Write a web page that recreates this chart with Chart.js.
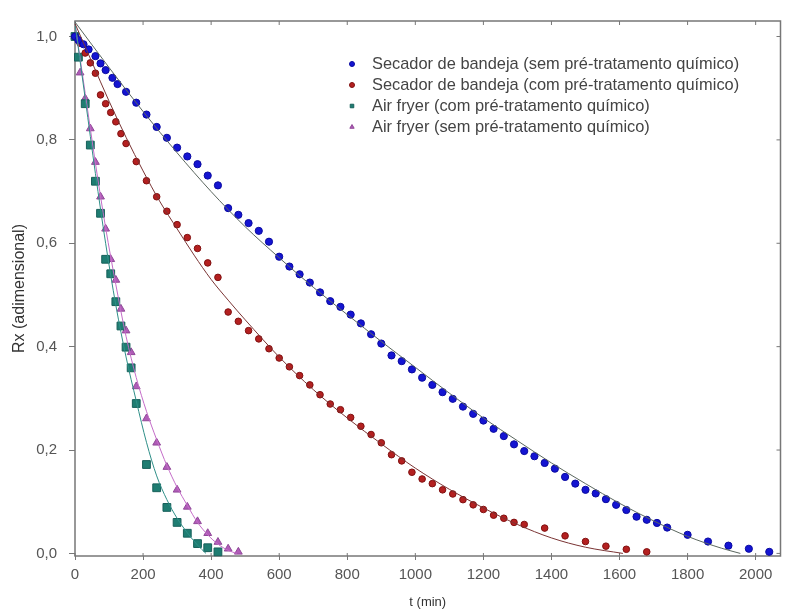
<!DOCTYPE html>
<html lang="pt">
<head>
<meta charset="UTF-8">
<title>Rx x t</title>
<script src="https://cdn.jsdelivr.net/npm/chart.js@4.4.0/dist/chart.umd.min.js"></script>
<style>
    html, body { margin: 0; padding: 0; background: #fff; }
    #wrap { width: 787px; height: 612px; }
</style>
</head>
<body>
<div id="wrap"><canvas id="chart" width="787" height="612"></canvas></div>
<script>
// series names (legend)
var seriesNames = [
    "Secador de bandeja (sem pré-tratamento químico)",
    "Secador de bandeja (com pré-tratamento químico)",
    "Air fryer (com pré-tratamento químico)",
    "Air fryer (sem pré-tratamento químico)"
];

// axis ticks
var xTicks = [0, 200, 400, 600, 800, 1000, 1200, 1400, 1600, 1800, 2000];
var yTicks = [0, 0.2, 0.4, 0.6, 0.8, 1.0];

// secador sem pre-tratamento (blue)
var blueT = [0, 10, 25, 40, 60, 75, 90, 110, 125, 150,
    180, 210, 240, 270, 300, 330, 360, 390, 420, 450, 480, 510, 540, 570, 600, 630, 660, 690, 720, 750,
    780, 810, 840, 870, 900, 930, 960, 990, 1020, 1050, 1080, 1110, 1140, 1170, 1200, 1230, 1260, 1290,
    1320, 1350, 1380, 1410, 1440, 1470, 1500, 1530, 1560, 1590, 1620, 1650, 1680, 1710, 1740,
    1800, 1860, 1920, 1980, 2040];
var blueRx = [1.0, 0.993, 0.985, 0.975, 0.962, 0.948, 0.935, 0.92, 0.908, 0.893,
    0.872, 0.849, 0.825, 0.804, 0.785, 0.768, 0.753, 0.731, 0.712, 0.668, 0.655, 0.639, 0.624, 0.603, 0.574, 0.555, 0.540, 0.524, 0.505, 0.488,
    0.477, 0.462, 0.445, 0.424, 0.406, 0.383, 0.372, 0.356, 0.340, 0.326, 0.312, 0.299, 0.284, 0.270, 0.257, 0.241, 0.227, 0.211,
    0.198, 0.188, 0.175, 0.164, 0.148, 0.135, 0.123, 0.116, 0.105, 0.094, 0.084, 0.071, 0.065, 0.059, 0.050,
    0.036, 0.023, 0.015, 0.009, 0.003];

// secador com pre-tratamento (red)
var redT = [0, 15, 30, 45, 60, 75, 90, 105, 120, 135, 150,
    180, 210, 240, 270, 300, 330, 360, 390, 420, 450, 480, 510, 540, 570, 600, 630, 660, 690, 720, 750,
    780, 810, 840, 870, 900, 930, 960, 990, 1020, 1050, 1080, 1110, 1140, 1170, 1200, 1230, 1260, 1290,
    1320, 1380, 1440, 1500, 1560, 1620, 1680];
var redRx = [1.0, 0.987, 0.968, 0.949, 0.929, 0.887, 0.870, 0.853, 0.835, 0.812, 0.793,
    0.758, 0.721, 0.690, 0.662, 0.636, 0.611, 0.590, 0.562, 0.534, 0.467, 0.449, 0.431, 0.415, 0.396, 0.378, 0.361, 0.344, 0.326, 0.307, 0.289,
    0.278, 0.263, 0.246, 0.230, 0.214, 0.191, 0.179, 0.157, 0.144, 0.135, 0.123, 0.115, 0.104, 0.094, 0.085, 0.074, 0.068, 0.060,
    0.056, 0.049, 0.034, 0.023, 0.014, 0.008, 0.003];

// air fryer com pre-tratamento (teal)
var tealT = [0, 10, 30, 45, 60, 75, 90, 105, 120, 135, 150, 165, 180, 210, 240, 270, 300, 330, 360, 390, 420];
var tealRx = [1.0, 0.96, 0.87, 0.79, 0.72, 0.658, 0.569, 0.541, 0.487, 0.44, 0.399, 0.359, 0.29, 0.172, 0.127, 0.089, 0.060, 0.039, 0.019, 0.011, 0.003];

// air fryer sem pre-tratamento (magenta)
var pinkT = [0, 15, 30, 45, 60, 75, 90, 105, 120, 135, 150, 165, 180, 210, 240, 270, 300, 330, 360, 390, 420, 450, 480];
var pinkRx = [1.0, 0.93, 0.88, 0.822, 0.757, 0.690, 0.628, 0.569, 0.529, 0.473, 0.431, 0.389, 0.323, 0.261, 0.214, 0.167, 0.123, 0.090, 0.062, 0.039, 0.022, 0.009, 0.003];

// fitted curves
var fitBlueT = [0, 100, 200, 300, 400, 500, 600, 700, 800, 900, 1000, 1100, 1200, 1300, 1400, 1500, 1600, 1700, 1800, 1900, 1955];
var fitBlueRx = [1.028, 0.94, 0.855, 0.775, 0.70, 0.632, 0.572, 0.515, 0.462, 0.41, 0.36, 0.31, 0.262, 0.218, 0.175, 0.135, 0.097, 0.063, 0.033, 0.01, 0];
var fitRedT = [0, 50, 100, 150, 200, 250, 300, 350, 400, 450, 500, 600, 700, 800, 900, 1000, 1100, 1200, 1300, 1400, 1500, 1610];
var fitRedRx = [1.025, 0.95, 0.875, 0.805, 0.74, 0.68, 0.628, 0.577, 0.53, 0.49, 0.452, 0.38, 0.317, 0.262, 0.212, 0.165, 0.124, 0.088, 0.056, 0.03, 0.012, 0];
var fitTealT = [0, 30, 60, 90, 120, 150, 180, 210, 240, 270, 300, 330, 360, 385];
var fitTealRx = [1.025, 0.88, 0.735, 0.60, 0.48, 0.38, 0.295, 0.215, 0.15, 0.104, 0.068, 0.04, 0.016, 0];
var fitPinkT = [0, 30, 60, 90, 120, 150, 180, 210, 240, 270, 300, 330, 360, 390, 420, 450, 475];
var fitPinkRx = [1.025, 0.89, 0.755, 0.63, 0.52, 0.42, 0.34, 0.275, 0.22, 0.17, 0.128, 0.093, 0.06, 0.036, 0.018, 0.006, 0];

function pts(t, v) {
    return t.map(function (x, i) { return { x: x, y: v[i] }; });
}

function pointSet(label, t, v, color, edge, style, r) {
    return {
        label: label,
        data: pts(t, v),
        backgroundColor: color,
        borderColor: edge,
        borderWidth: 1,
        pointStyle: style,
        pointRadius: r,
        showLine: false,
        clip: false,
        order: 2
    };
}

function fitSet(t, v, color) {
    return {
        label: "",
        data: pts(t, v),
        borderColor: color,
        borderWidth: 1,
        pointRadius: 0,
        showLine: true,
        cubicInterpolationMode: "monotone",
        order: 1
    };
}

var fontFamily = '"Liberation Sans", Arial, sans-serif';
var tickFont = { family: fontFamily, size: 15 };

// frame around plot area with inner ticks on all sides
var framePlugin = {
    id: "frame",
    beforeDatasetsDraw: function (chart) {
        var a = chart.chartArea, ctx = chart.ctx;
        var xs = chart.scales.x, ys = chart.scales.y;
        ctx.save();
        ctx.strokeStyle = "#777";
        ctx.lineWidth = 1.5;
        ctx.strokeRect(a.left, a.top, a.right - a.left, a.bottom - a.top);
        ctx.lineWidth = 1;
        ctx.beginPath();
        xTicks.forEach(function (v) {
            var px = xs.getPixelForValue(v);
            ctx.moveTo(px, a.top); ctx.lineTo(px, a.top + 4);
            ctx.moveTo(px, a.bottom); ctx.lineTo(px, a.bottom - 3);
        });
        yTicks.forEach(function (v) {
            var py = ys.getPixelForValue(v);
            ctx.moveTo(a.right, py); ctx.lineTo(a.right - 4, py);
        });
        ctx.stroke();
        ctx.restore();
    }
};

// legend inside the plot
var legendPlugin = {
    id: "innerLegend",
    afterDraw: function (chart) {
        var ctx = chart.ctx;
        ctx.save();
        ctx.font = "16.4px " + fontFamily;
        ctx.textBaseline = "middle";
        for (var i = 0; i < seriesNames.length; i++) {
            var ds = chart.data.datasets[i];
            var y = 64 + i * 21;
            ctx.fillStyle = ds.backgroundColor;
            ctx.strokeStyle = ds.borderColor;
            ctx.lineWidth = 1;
            Chart.helpers.drawPoint(ctx, { pointStyle: ds.pointStyle, radius: 2.5, borderWidth: 1, rotation: 0 }, 352, y);
            ctx.fillStyle = "#444";
            ctx.fillText(seriesNames[i], 372, y);
        }
        ctx.restore();
    }
};

new Chart(document.getElementById("chart"), {
    type: "scatter",
    data: {
        datasets: [
            pointSet(seriesNames[0], blueT, blueRx, "#1414d2", "#0a0aa0", "circle", 3.6),
            pointSet(seriesNames[1], redT, redRx, "#b42020", "#801010", "circle", 3.3),
            pointSet(seriesNames[2], tealT, tealRx, "#1f7d72", "#17605a", "rect", 5.5),
            pointSet(seriesNames[3], pinkT, pinkRx, "#b05cb8", "#904898", "triangle", 4.5),
            fitSet(fitBlueT, fitBlueRx, "#5a665e"),
            fitSet(fitRedT, fitRedRx, "#7a3434"),
            fitSet(fitTealT, fitTealRx, "#2f8f88"),
            fitSet(fitPinkT, fitPinkRx, "#c46cc8")
        ]
    },
    options: {
        responsive: false,
        devicePixelRatio: 1,
        animation: false,
        layout: { padding: { top: 15, right: 1, left: 0, bottom: 0 } },
        plugins: {
            legend: { display: false },
            tooltip: { enabled: false }
        },
        scales: {
            x: {
                type: "linear",
                min: 0,
                max: 2073,
                border: { display: false },
                grid: { drawOnChartArea: false, drawTicks: true, tickLength: 4, color: "#777" },
                afterBuildTicks: function (s) { s.ticks = xTicks.map(function (v) { return { value: v }; }); },
                afterFit: function (s) { s.height = 56; },
                ticks: {
                    font: tickFont, color: "#555", padding: 6, maxRotation: 0, autoSkip: false,
                    callback: function (v) { return String(v); }
                },
                title: { display: true, text: "t (min)", color: "#333", font: { family: fontFamily, size: 13 }, padding: { top: 0, bottom: 2 } }
            },
            y: {
                type: "linear",
                min: -0.005,
                max: 1.03,
                border: { display: false },
                grid: { drawOnChartArea: false, drawTicks: true, tickLength: 6, color: "#777" },
                afterBuildTicks: function (s) { s.ticks = yTicks.map(function (v) { return { value: v }; }); },
                afterFit: function (s) { s.width = 75; },
                ticks: {
                    font: tickFont, color: "#555", padding: 12,
                    callback: function (v) { return v.toFixed(1).replace(".", ","); }
                },
                title: { display: true, text: "Rx (adimensional)", color: "#333", font: { family: fontFamily, size: 16 }, padding: { top: 10, bottom: 0 } }
            }
        }
    },
    plugins: [framePlugin, legendPlugin]
});
</script>
</body>
</html>
